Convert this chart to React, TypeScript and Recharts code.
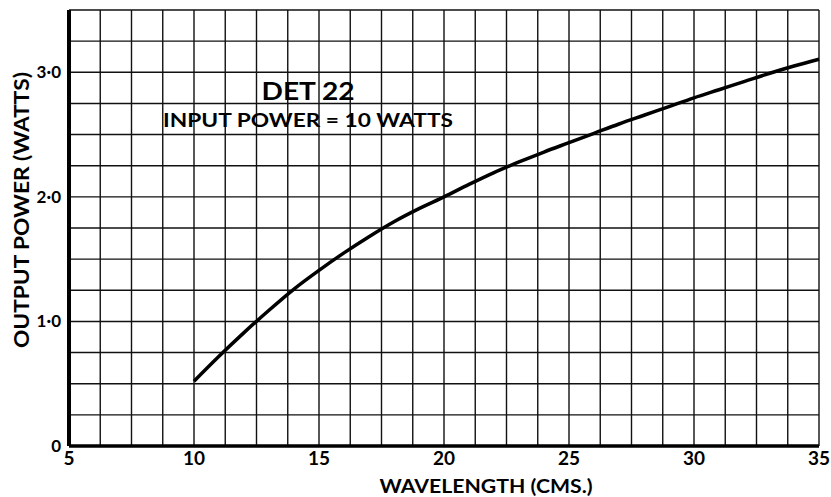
import React from 'react';
import { LineChart, Line, XAxis, YAxis, CartesianGrid } from 'recharts';

// wavelength (cms) vs output power (watts)
const wavelength = [10, 11, 12, 13, 14, 15, 16, 17, 18, 19, 20, 21, 22, 23, 24, 25, 26, 27, 28, 29, 30, 31, 32, 33, 34, 35];
const outputPower = [0.52, 0.72, 0.91, 1.09, 1.26, 1.41, 1.55, 1.68, 1.8, 1.905, 2.0, 2.1, 2.195, 2.28, 2.36, 2.435, 2.51, 2.585, 2.655, 2.725, 2.795, 2.86, 2.925, 2.99, 3.05, 3.105];

// grid ticks (every square) and labelled ticks
const xGridTicks = [5, 6.25, 7.5, 8.75, 10, 11.25, 12.5, 13.75, 15, 16.25, 17.5, 18.75, 20, 21.25, 22.5, 23.75, 25, 26.25, 27.5, 28.75, 30, 31.25, 32.5, 33.75, 35];
const xLabelTicks = [5, 10, 15, 20, 25, 30, 35];
const yGridTicks = [0, 0.25, 0.5, 0.75, 1, 1.25, 1.5, 1.75, 2, 2.25, 2.5, 2.75, 3, 3.25, 3.5];
const yLabelTicks = [0, 1, 2, 3];

const FONT = 'Lato, "Open Sans", sans-serif';

const data = wavelength.map((w, i) => ({ w, p: outputPower[i] }));

const fmtX = (v: number) => (xLabelTicks.includes(v) ? String(v) : '');
const fmtY = (v: number) => {
  if (!yLabelTicks.includes(v)) return '';
  return v === 0 ? '0' : `${v}\u00B70`;
};

export default function App() {
  return (
    <div style={{ position: 'absolute', left: 0, top: 0, width: 831, height: 497, background: '#fff' }}>
      <LineChart width={831} height={497} data={data} margin={{ top: 10, right: 12, left: 0, bottom: 0 }}>
        <CartesianGrid stroke="#111" strokeWidth={1.4} />
        <XAxis
          dataKey="w"
          type="number"
          domain={[5, 35]}
          ticks={xGridTicks}
          interval={0}
          tickFormatter={fmtX}
          tickLine={false}
          axisLine={{ stroke: '#000', strokeWidth: 3.5 }}
          height={51}
          tick={{ fill: '#000', fontSize: 19, fontWeight: 700, fontFamily: FONT }}
          tickMargin={0}
        />
        <YAxis
          type="number"
          domain={[0, 3.5]}
          ticks={yGridTicks}
          interval={0}
          tickFormatter={fmtY}
          tickLine={false}
          axisLine={{ stroke: '#000', strokeWidth: 4 }}
          width={69}
          tick={{ fill: '#000', fontSize: 17, fontWeight: 700, fontFamily: FONT }}
          tickMargin={2}
        />
        <Line
          type="monotone"
          dataKey="p"
          stroke="#000"
          strokeWidth={3.5}
          dot={false}
          isAnimationActive={false}
        />
      </LineChart>
      <svg
        width={831}
        height={497}
        style={{ position: 'absolute', left: 0, top: 0, pointerEvents: 'none' }}
        fontFamily={FONT}
        fontWeight={700}
        fill="#000"
      >
        <text x={308} y={100} fontSize={25} textAnchor="middle" textLength={93} lengthAdjust="spacingAndGlyphs">
          DET 22
        </text>
        <text x={308} y={127} fontSize={19} textAnchor="middle" textLength={290} lengthAdjust="spacingAndGlyphs">
          INPUT POWER = 10 WATTS
        </text>
        <text x={486} y={493} fontSize={18} textAnchor="middle" textLength={213} lengthAdjust="spacingAndGlyphs">
          WAVELENGTH (CMS.)
        </text>
        <text
          transform="translate(29,210) rotate(-90)"
          fontSize={20}
          textAnchor="middle"
          textLength={276}
          lengthAdjust="spacingAndGlyphs"
        >
          OUTPUT POWER (WATTS)
        </text>
      </svg>
    </div>
  );
}
